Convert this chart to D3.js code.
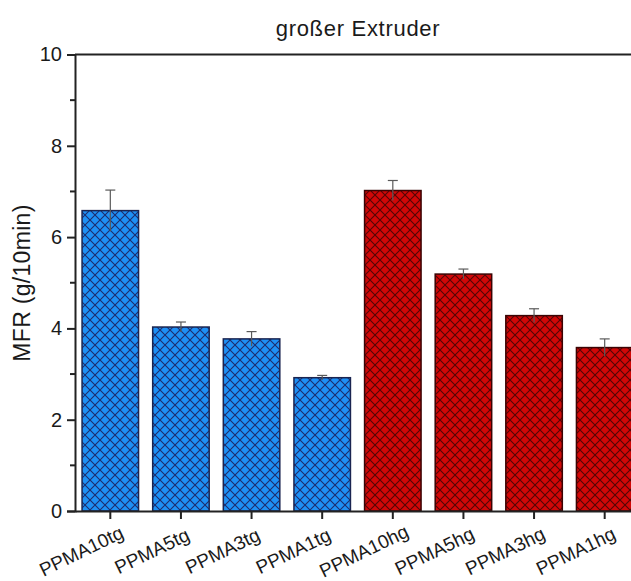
<!DOCTYPE html>
<html>
<head>
<meta charset="utf-8">
<script src="https://cdn.jsdelivr.net/npm/d3@7"></script>
<style>
  html, body { margin: 0; padding: 0; background: #fff; }
  svg text { font-family: "Liberation Sans", Arial, sans-serif; fill: #1a1a1a; }
</style>
</head>
<body>
<svg id="chart" width="631" height="581"></svg>
<script>
// MFR per sample, with standard deviation
const categories = ["PPMA10tg", "PPMA5tg", "PPMA3tg", "PPMA1tg", "PPMA10hg", "PPMA5hg", "PPMA3hg", "PPMA1hg"];
const mfrValues = [6.58, 4.03, 3.77, 2.92, 7.02, 5.19, 4.28, 3.58];
const mfrErrors = [0.45, 0.11, 0.16, 0.05, 0.22, 0.11, 0.15, 0.19];
const groups = ["tg", "tg", "tg", "tg", "hg", "hg", "hg", "hg"];
const yTicks = [0, 2, 4, 6, 8, 10];
const yMinorTicks = [1, 3, 5, 7, 9];

const svg = d3.select("#chart");
const plotLeft = 75, plotTop = 54.5, plotBottom = 511, plotRight = 640;

const x = d3.scaleBand().domain(categories).range([plotLeft, plotRight]).paddingInner(0.2).paddingOuter(0.1);
const y = d3.scaleLinear().domain([0, 10]).range([plotBottom, plotTop]);

// crosshatch patterns
const defs = svg.append("defs");
const hatch = [
  { id: "hatch-tg", fill: "#1e90f5", line: "#1c2d6e" },
  { id: "hatch-hg", fill: "#d00808", line: "#520404" }
];
const T = 10;
hatch.forEach(h => {
  const p = defs.append("pattern").attr("id", h.id).attr("patternUnits", "userSpaceOnUse")
    .attr("width", T).attr("height", T);
  p.append("rect").attr("width", T).attr("height", T).attr("fill", h.fill);
  p.append("path")
    .attr("d", `M-1,-1 L${T + 1},${T + 1} M-1,${T + 1} L${T + 1},-1`)
    .attr("stroke", h.line).attr("stroke-width", 1.1).attr("fill", "none");
});

// bars
svg.append("g").selectAll("rect").data(categories).join("rect")
  .attr("x", d => x(d))
  .attr("y", (d, i) => y(mfrValues[i]))
  .attr("width", x.bandwidth())
  .attr("height", (d, i) => y(0) - y(mfrValues[i]))
  .attr("fill", (d, i) => `url(#hatch-${groups[i]})`)
  .attr("stroke", (d, i) => groups[i] === "tg" ? "#1a2450" : "#3a0404")
  .attr("stroke-width", 1.5);

// error bars
const eb = svg.append("g").attr("stroke", "#5a5a5a").attr("stroke-width", 1.2);
categories.forEach((c, i) => {
  const cx = x(c) + x.bandwidth() / 2;
  eb.append("line").attr("x1", cx).attr("x2", cx)
    .attr("y1", y(mfrValues[i] + mfrErrors[i])).attr("y2", y(mfrValues[i] - mfrErrors[i]));
  eb.append("line").attr("x1", cx - 5).attr("x2", cx + 5)
    .attr("y1", y(mfrValues[i] + mfrErrors[i])).attr("y2", y(mfrValues[i] + mfrErrors[i]));
});

// frame: top line
svg.append("line").attr("x1", plotLeft).attr("x2", 631).attr("y1", plotTop).attr("y2", plotTop)
  .attr("stroke", "#222").attr("stroke-width", 2);

// y axis
const yAxis = svg.append("g").attr("transform", `translate(${plotLeft},0)`)
  .call(d3.axisLeft(y).tickValues(yTicks).tickSize(8).tickPadding(5).tickFormat(d3.format("d")));
yAxis.select(".domain").attr("stroke", "#222").attr("stroke-width", 2);
yAxis.selectAll(".tick line").attr("stroke", "#222").attr("stroke-width", 2);
yAxis.selectAll(".tick text").attr("font-size", 20).style("font-family", "Liberation Sans, Arial, sans-serif").attr("fill", "#1a1a1a");
svg.append("g").selectAll("line").data(yMinorTicks).join("line")
  .attr("x1", plotLeft - 5).attr("x2", plotLeft).attr("y1", d => y(d)).attr("y2", d => y(d))
  .attr("stroke", "#222").attr("stroke-width", 2);

// x axis, labels rotated about their centre
const xAxis = svg.append("g").attr("transform", `translate(0,${plotBottom})`)
  .call(d3.axisBottom(x).tickSize(8).tickSizeOuter(0));
xAxis.select(".domain").attr("stroke", "#222").attr("stroke-width", 2);
xAxis.selectAll(".tick line").attr("stroke", "#222").attr("stroke-width", 2);
xAxis.selectAll(".tick text")
  .attr("font-size", 19)
  .style("font-family", "Liberation Sans, Arial, sans-serif")
  .attr("fill", "#1a1a1a")
  .attr("text-anchor", "middle")
  .attr("dy", "0.35em")
  .attr("y", 0)
  .attr("transform", "translate(-29,40) rotate(-26)");

// title
svg.append("text").attr("x", 358).attr("y", 36).attr("text-anchor", "middle")
  .attr("font-size", 22).attr("letter-spacing", 0.7).text("großer Extruder");

// y label
svg.append("text").attr("transform", "translate(30,283) rotate(-90)").attr("text-anchor", "middle")
  .attr("font-size", 23).attr("letter-spacing", 0.3).text("MFR (g/10min)");
</script>
</body>
</html>
